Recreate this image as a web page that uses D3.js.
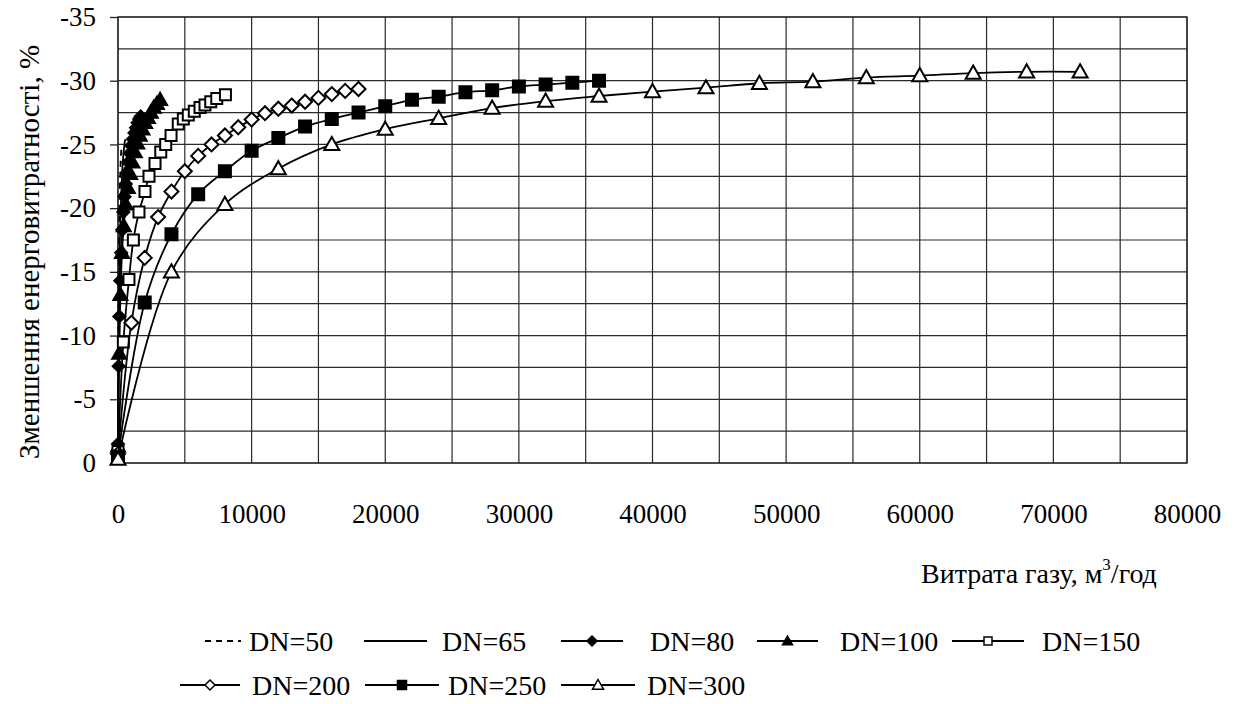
<!DOCTYPE html>
<html><head><meta charset="utf-8">
<script src="https://cdn.jsdelivr.net/npm/d3@7"></script>
<style>
body{margin:0;background:#fff}
svg{display:block}
svg text{font-family:"Liberation Serif","Times New Roman",Tinos,serif !important;fill:#000}
</style>
</head><body>
<svg id="chart" width="1240" height="704"></svg>
<script>
// ---------- data ----------
const xTickValues = [0,10000,20000,30000,40000,50000,60000,70000,80000];
const yTickValues = [-35,-30,-25,-20,-15,-10,-5,0];
const xGridValues = [0,5000,10000,15000,20000,25000,30000,35000,40000,45000,50000,55000,60000,65000,70000,75000,80000];
const yGridValues = [0,-2.5,-5,-7.5,-10,-12.5,-15,-17.5,-20,-22.5,-25,-27.5,-30,-32.5,-35];

const seriesNames = ["DN=50","DN=65","DN=80","DN=100","DN=150","DN=200","DN=250","DN=300"];

const dn50x = [0,15,30,45,60,75,90,105,120,135,150,165,180,195,210,225,240,255,270];
const dn50y = [-0.8,-6.5,-10.5,-13.3,-15.5,-17.2,-18.5,-19.6,-20.5,-21.3,-22.0,-22.6,-23.1,-23.5,-23.9,-24.2,-24.5,-24.7,-24.9];

const dn65x = [0,30,60,90,120,150,180,210,240,270,300,330,360,390,420,450,480,510,540];
const dn65y = [-0.9,-7.0,-11.0,-13.8,-16.0,-17.7,-19.0,-20.1,-21.0,-21.8,-22.5,-23.1,-23.6,-24.0,-24.4,-24.7,-25.0,-25.2,-25.4];

const dn80x = [0,50,100,170,240,320,400,490,580,680,780,890,1000,1110,1230,1350,1470,1590,1700];
const dn80y = [-1.5,-7.6,-11.5,-14.3,-16.5,-18.3,-19.7,-20.9,-21.9,-22.8,-23.6,-24.3,-24.9,-25.4,-25.9,-26.3,-26.7,-27.0,-27.2];

const dn100x = [0,90,180,300,430,580,740,910,1080,1260,1440,1630,1830,2030,2240,2450,2680,2910,3150];
const dn100y = [-1.3,-8.6,-13.2,-16.5,-18.6,-20.3,-21.6,-22.7,-23.6,-24.4,-25.1,-25.7,-26.2,-26.7,-27.1,-27.5,-27.9,-28.2,-28.5];

const dn150x = [0,400,820,1150,1570,2020,2320,2770,3200,3570,3970,4510,4890,5260,5710,6140,6510,6940,7390,8040];
const dn150y = [-0.9,-9.5,-14.4,-17.5,-19.7,-21.3,-22.5,-23.5,-24.4,-25.0,-25.7,-26.6,-27.0,-27.3,-27.6,-27.9,-28.1,-28.35,-28.6,-28.9];

const dn200x = [0,1000,2000,3000,4000,5000,6000,7000,8000,9000,10000,11000,12000,13000,14000,15000,16000,17000,18000];
const dn200y = [-0.7,-11.0,-16.1,-19.3,-21.3,-22.9,-24.1,-25.0,-25.7,-26.35,-26.95,-27.45,-27.8,-28.05,-28.35,-28.65,-28.95,-29.2,-29.35];

const dn250x = [0,2000,4000,6000,8000,10000,12000,14000,16000,18000,20000,22000,24000,26000,28000,30000,32000,34000,36000];
const dn250y = [-0.5,-12.6,-17.95,-21.1,-22.9,-24.5,-25.5,-26.4,-27.0,-27.5,-28.0,-28.5,-28.75,-29.1,-29.25,-29.55,-29.7,-29.85,-30.0];

const dn300x = [0,4000,8000,12000,16000,20000,24000,28000,32000,36000,40000,44000,48000,52000,56000,60000,64000,68000,72000];
const dn300y = [-0.3,-15.0,-20.3,-23.1,-25.0,-26.2,-27.05,-27.85,-28.4,-28.8,-29.15,-29.45,-29.8,-29.93,-30.25,-30.4,-30.6,-30.7,-30.7];

const seriesX = [dn50x,dn65x,dn80x,dn100x,dn150x,dn200x,dn250x,dn300x];
const seriesY = [dn50y,dn65y,dn80y,dn100y,dn150y,dn200y,dn250y,dn300y];

// ---------- styles ----------
const styles = [
  {dash:"6,5", marker:null},
  {dash:null, marker:null},
  {dash:null, marker:"diamond", fill:"#000", size:6, lsize:5},
  {dash:null, marker:"triangle", fill:"#000", size:7, lsize:5},
  {dash:null, marker:"square", fill:"#fff", size:5.5, lsize:4},
  {dash:null, marker:"diamond", fill:"#fff", size:7, lsize:5},
  {dash:null, marker:"square", fill:"#000", size:6, lsize:4.5},
  {dash:null, marker:"triangle", fill:"#fff", size:7.5, lsize:5.5}
];

function markerPath(type, s){
  if(type==="diamond") return `M0,${-s}L${s},0L0,${s}L${-s},0Z`;
  if(type==="square") return `M${-s},${-s}H${s}V${s}H${-s}Z`;
  if(type==="triangle") return `M0,${-s}L${s},${0.75*s}L${-s},${0.75*s}Z`;
  return "";
}

// ---------- layout ----------
const FONT = '"Liberation Serif","Times New Roman",Tinos,serif';
const L=118, R=1187, T=17, B=463;
const svg = d3.select("#chart");
const x = d3.scaleLinear().domain([0,80000]).range([L,R]);
const y = d3.scaleLinear().domain([0,-35]).range([B,T]);

// grid
svg.append("g").selectAll("line").data(yGridValues).join("line")
  .attr("x1",L).attr("x2",R).attr("y1",d=>y(d)).attr("y2",d=>y(d))
  .attr("stroke","#2a2a2a").attr("stroke-width",1.2);
svg.append("g").selectAll("line").data(xGridValues).join("line")
  .attr("y1",T).attr("y2",B).attr("x1",d=>x(d)).attr("x2",d=>x(d))
  .attr("stroke","#2a2a2a").attr("stroke-width",1.2);
svg.append("rect").attr("x",L).attr("y",T).attr("width",R-L).attr("height",B-T)
  .attr("fill","none").attr("stroke","#222").attr("stroke-width",1.3);

// y axis ticks & labels
const yAxis = d3.axisLeft(y).tickValues(yTickValues).tickSize(8).tickPadding(14).tickFormat(d=>String(d));
const gy = svg.append("g").attr("transform",`translate(${L},0)`).call(yAxis);
gy.attr("font-family",FONT);
gy.select(".domain").remove();
gy.selectAll(".tick line").attr("stroke","#222").attr("stroke-width",1.3);
gy.selectAll(".tick text").attr("font-size",27).attr("fill","#000");

// x axis labels
const xAxis = d3.axisBottom(x).tickValues(xTickValues).tickSize(0).tickPadding(41).tickFormat(d=>String(d));
const gx = svg.append("g").attr("transform",`translate(0,${B})`).call(xAxis);
gx.attr("font-family",FONT);
gx.select(".domain").remove();
gx.selectAll(".tick text").attr("font-size",27).attr("fill","#000");

// series
const line = d3.line().curve(d3.curveCatmullRom.alpha(0.5));
const plot = svg.append("g");
seriesNames.forEach((name,i)=>{
  const pts = seriesX[i].map((xv,j)=>[x(xv), y(seriesY[i][j])]);
  const st = styles[i];
  plot.append("path").attr("d",line(pts)).attr("fill","none")
    .attr("stroke","#000").attr("stroke-width",1.8)
    .attr("stroke-dasharray",st.dash);
  if(st.marker){
    plot.append("g").selectAll("path").data(pts).join("path")
      .attr("transform",d=>`translate(${d[0]},${d[1]})`)
      .attr("d",markerPath(st.marker,st.size))
      .attr("fill",st.fill).attr("stroke","#000").attr("stroke-width",2)
      .attr("stroke-linejoin","miter");
  }
});

// axis titles
svg.append("text").attr("transform","translate(39,252) rotate(-90)")
  .attr("text-anchor","middle").attr("font-size",29).attr("font-family",FONT)
  .text("Зменшення енерговитратності, %");

const xt = svg.append("text").attr("x",1039).attr("y",583)
  .attr("text-anchor","middle").attr("font-size",28).attr("font-family",FONT);
xt.append("tspan").text("Витрата газу, м");
xt.append("tspan").attr("font-size",17).attr("dy",-13).text("3");
xt.append("tspan").attr("dy",13).text("/год");

// legend
const legendPos = [
  {lx:205, rx:241, tx:249, ty:641},
  {lx:364, rx:427, tx:442, ty:641},
  {lx:561, rx:623, tx:650, ty:641},
  {lx:757, rx:818, tx:840, ty:641},
  {lx:952, rx:1024, tx:1042, ty:641},
  {lx:180, rx:240, tx:252, ty:685},
  {lx:365, rx:439, tx:448, ty:685},
  {lx:561, rx:635, tx:647, ty:685}
];
const lg = svg.append("g").attr("font-family",FONT);
seriesNames.forEach((name,i)=>{
  const p = legendPos[i], st = styles[i];
  lg.append("line").attr("x1",p.lx).attr("x2",p.rx).attr("y1",p.ty).attr("y2",p.ty)
    .attr("stroke","#000").attr("stroke-width",1.8).attr("stroke-dasharray",st.dash);
  if(st.marker){
    lg.append("path").attr("transform",`translate(${(p.lx+p.rx)/2},${p.ty})`)
      .attr("d",markerPath(st.marker,st.lsize)).attr("fill",st.fill)
      .attr("stroke","#000").attr("stroke-width",1.5);
  }
  lg.append("text").attr("x",p.tx).attr("y",p.ty).attr("dy","0.35em")
    .attr("font-size",28).text(name);
});
</script>
</body></html>
